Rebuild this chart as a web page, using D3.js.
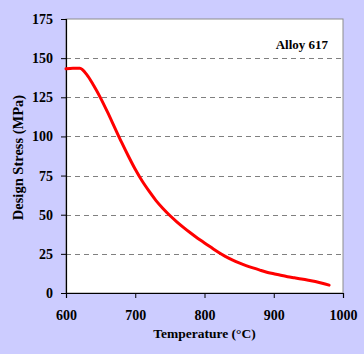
<!DOCTYPE html>
<html>
<head>
<meta charset="utf-8">
<script src="https://cdn.jsdelivr.net/npm/d3@7"></script>
<style>
  html, body { margin: 0; padding: 0; background: #ccccff; }
  text { font-family: "Liberation Serif", "Times New Roman", serif; font-weight: bold; }
</style>
</head>
<body>
<div id="chart"></div>
<script>
var temps = [600, 610, 620, 630, 640, 650, 660, 670, 680, 690, 700, 710, 720, 730, 740, 750,
    760, 770, 780, 790, 800, 810, 820, 830, 840, 850, 860, 870, 880, 890, 900, 910, 920,
    930, 940, 950, 960, 970, 980];
var stress = [143.2, 143.6, 143.5, 139.5, 132.5, 124.5, 115.5, 106, 96.5, 87.5, 79, 71.5, 65, 59, 54, 49.5,
    45.5, 41.8, 38.3, 35, 32, 29, 26, 23.4, 21.2, 19.2, 17.5, 16, 14.6, 13.3, 12.3, 11.3, 10.4,
    9.7, 9, 8.2, 7.3, 6.2, 5];
var xTicks = [600, 700, 800, 900, 1000];
var yTicks = [0, 25, 50, 75, 100, 125, 150, 175];
var gridTicks = [25, 50, 75, 100, 125, 150];

function init() {
    var w = 364, h = 354;
    var left = 66, right = 343, top = 19, bottom = 293;

    var svg = d3.select("#chart")
        .append("svg")
        .attr("width", w)
        .attr("height", h);

    svg.append("rect")
        .attr("width", w)
        .attr("height", h)
        .attr("fill", "#ccccff");

    var x = d3.scaleLinear().domain([600, 1000]).range([left, right]);
    var y = d3.scaleLinear().domain([0, 175]).range([bottom, top]);

    // plot area
    svg.append("rect")
        .attr("x", left)
        .attr("y", top)
        .attr("width", right - left)
        .attr("height", bottom - top)
        .attr("fill", "#ffffff")
        .attr("stroke", "#8c8c8c")
        .attr("stroke-width", 1);

    svg.selectAll(".grid")
        .data(gridTicks)
        .enter()
        .append("line")
        .attr("class", "grid")
        .attr("x1", left)
        .attr("x2", right)
        .attr("y1", function (d) { return Math.round(y(d)) + 0.5; })
        .attr("y2", function (d) { return Math.round(y(d)) + 0.5; })
        .attr("stroke", "#808080")
        .attr("stroke-width", 1)
        .attr("stroke-dasharray", "5,4");

    var xAxis = svg.append("g")
        .attr("transform", "translate(0," + bottom + ")")
        .call(d3.axisBottom(x).tickValues(xTicks).tickSize(5).tickPadding(12).tickFormat(d3.format("d")));
    xAxis.select(".domain").attr("stroke", "#000").attr("stroke-width", 1.2);
    xAxis.selectAll("text").style("font-size", "14px").attr("fill", "#000");

    var yAxis = svg.append("g")
        .attr("transform", "translate(" + left + ",0)")
        .call(d3.axisLeft(y).tickValues(yTicks).tickSize(5).tickPadding(8).tickFormat(d3.format("d")));
    yAxis.select(".domain").attr("stroke", "#000").attr("stroke-width", 1.2);
    yAxis.selectAll("text").style("font-size", "14px").attr("fill", "#000");

    var line = d3.line()
        .x(function (d, i) { return x(temps[i]); })
        .y(function (d) { return y(d); })
        .curve(d3.curveMonotoneX);

    svg.append("path")
        .datum(stress)
        .attr("d", line)
        .attr("fill", "none")
        .attr("stroke", "#ff0000")
        .attr("stroke-width", 3)
        .attr("stroke-linecap", "round");

    svg.append("text")
        .attr("x", 328)
        .attr("y", 49)
        .attr("text-anchor", "end")
        .style("font-size", "13px")
        .text("Alloy 617");

    svg.append("text")
        .attr("x", (left + right) / 2)
        .attr("y", 338)
        .attr("text-anchor", "middle")
        .style("font-size", "13.5px")
        .text("Temperature (°C)");

    svg.append("text")
        .attr("transform", "translate(23,157.5) rotate(-90)")
        .attr("text-anchor", "middle")
        .style("font-size", "14.5px")
        .text("Design Stress (MPa)");
}

window.onload = init;
</script>
</body>
</html>
